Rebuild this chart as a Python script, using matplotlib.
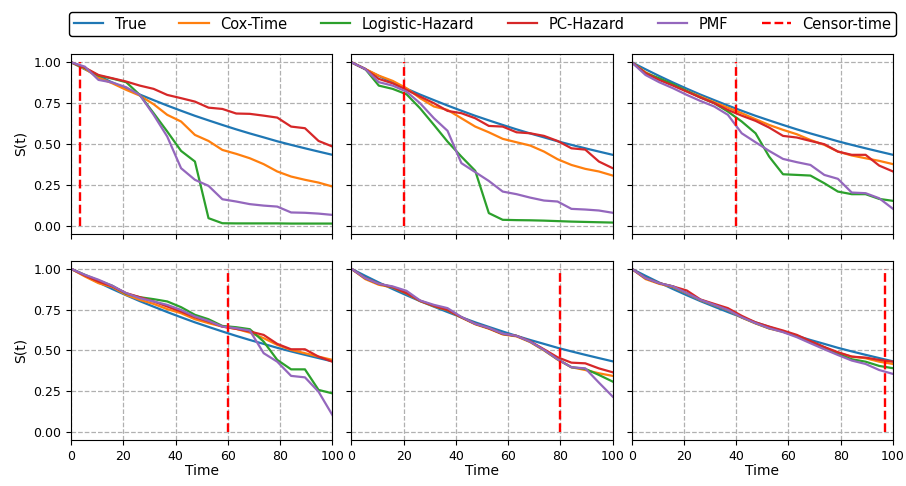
import matplotlib
matplotlib.use("Agg")
import matplotlib.pyplot as plt

# time grid of the discrete models (20 cut points on [0, 100])
time_grid = [0, 5.3, 10.5, 15.8, 21.1, 26.3, 31.6, 36.8, 42.1, 47.4,
             52.6, 57.9, 63.2, 68.4, 73.7, 78.9, 84.2, 89.5, 94.7, 100]

true_surv = [1.000, 0.957, 0.916, 0.876, 0.838, 0.802, 0.768, 0.735, 0.703, 0.672,
             0.644, 0.616, 0.589, 0.564, 0.540, 0.516, 0.494, 0.473, 0.453, 0.433]

censor_times = [3.5, 20, 40, 60, 80, 97]

# one list per panel (row-major order)
cox_time = [
    [1, 0.96, 0.906, 0.871, 0.831, 0.796, 0.743, 0.678, 0.637, 0.555, 0.518, 0.463, 0.439, 0.412, 0.376, 0.331, 0.30, 0.28, 0.263, 0.239],
    [1, 0.959, 0.918, 0.886, 0.841, 0.78, 0.729, 0.708, 0.657, 0.606, 0.571, 0.531, 0.51, 0.49, 0.453, 0.406, 0.371, 0.347, 0.331, 0.306],
    [1, 0.939, 0.898, 0.861, 0.824, 0.79, 0.755, 0.722, 0.688, 0.651, 0.616, 0.586, 0.559, 0.524, 0.494, 0.453, 0.429, 0.412, 0.396, 0.376],
    [1, 0.953, 0.912, 0.888, 0.84, 0.81, 0.785, 0.753, 0.728, 0.691, 0.667, 0.646, 0.632, 0.609, 0.575, 0.534, 0.503, 0.483, 0.462, 0.442],
    [1, 0.937, 0.902, 0.886, 0.849, 0.802, 0.771, 0.746, 0.701, 0.660, 0.633, 0.598, 0.586, 0.551, 0.500, 0.444, 0.397, 0.38, 0.36, 0.344],
    [1, 0.937, 0.908, 0.888, 0.849, 0.808, 0.777, 0.746, 0.701, 0.665, 0.634, 0.614, 0.587, 0.552, 0.518, 0.486, 0.462, 0.452, 0.431, 0.417],
]
logistic_hazard = [
    [1, 0.965, 0.918, 0.90, 0.878, 0.80, 0.688, 0.576, 0.457, 0.392, 0.045, 0.014, 0.013, 0.013, 0.013, 0.013, 0.012, 0.012, 0.012, 0.012],
    [1, 0.959, 0.857, 0.837, 0.804, 0.718, 0.616, 0.514, 0.422, 0.335, 0.076, 0.035, 0.033, 0.032, 0.03, 0.027, 0.024, 0.022, 0.02, 0.018],
    [1, 0.933, 0.902, 0.865, 0.824, 0.784, 0.749, 0.698, 0.637, 0.565, 0.422, 0.314, 0.31, 0.306, 0.259, 0.208, 0.192, 0.192, 0.163, 0.151],
    [1, 0.963, 0.928, 0.896, 0.847, 0.826, 0.814, 0.80, 0.765, 0.718, 0.691, 0.65, 0.642, 0.63, 0.554, 0.442, 0.384, 0.384, 0.258, 0.237],
    [1, 0.943, 0.908, 0.888, 0.851, 0.804, 0.773, 0.748, 0.703, 0.663, 0.636, 0.601, 0.589, 0.554, 0.503, 0.446, 0.397, 0.387, 0.35, 0.309],
    [1, 0.943, 0.912, 0.892, 0.851, 0.81, 0.779, 0.748, 0.703, 0.667, 0.636, 0.616, 0.589, 0.554, 0.519, 0.479, 0.446, 0.431, 0.405, 0.391],
]
pc_hazard = [
    [1, 0.967, 0.922, 0.902, 0.882, 0.857, 0.837, 0.80, 0.78, 0.759, 0.722, 0.714, 0.686, 0.684, 0.673, 0.661, 0.606, 0.596, 0.518, 0.484],
    [1, 0.959, 0.898, 0.871, 0.831, 0.79, 0.749, 0.702, 0.688, 0.657, 0.61, 0.606, 0.571, 0.565, 0.549, 0.518, 0.473, 0.465, 0.392, 0.351],
    [1, 0.933, 0.892, 0.857, 0.82, 0.784, 0.749, 0.708, 0.673, 0.641, 0.60, 0.549, 0.539, 0.518, 0.498, 0.453, 0.433, 0.433, 0.367, 0.331],
    [1, 0.959, 0.922, 0.892, 0.851, 0.826, 0.80, 0.769, 0.738, 0.703, 0.677, 0.646, 0.632, 0.616, 0.595, 0.54, 0.507, 0.507, 0.462, 0.431],
    [1, 0.943, 0.908, 0.888, 0.851, 0.804, 0.773, 0.748, 0.703, 0.663, 0.636, 0.601, 0.589, 0.556, 0.507, 0.458, 0.425, 0.421, 0.39, 0.366],
    [1, 0.943, 0.912, 0.892, 0.867, 0.812, 0.785, 0.759, 0.712, 0.672, 0.646, 0.622, 0.595, 0.557, 0.521, 0.489, 0.462, 0.456, 0.442, 0.431],
]
pmf = [
    [1, 0.973, 0.892, 0.876, 0.847, 0.80, 0.678, 0.545, 0.351, 0.28, 0.243, 0.161, 0.147, 0.131, 0.122, 0.116, 0.08, 0.078, 0.073, 0.065],
    [1, 0.959, 0.878, 0.857, 0.82, 0.749, 0.657, 0.58, 0.382, 0.327, 0.273, 0.208, 0.192, 0.171, 0.153, 0.147, 0.102, 0.098, 0.092, 0.078],
    [1, 0.922, 0.878, 0.841, 0.80, 0.763, 0.729, 0.678, 0.565, 0.51, 0.457, 0.408, 0.388, 0.371, 0.31, 0.286, 0.202, 0.198, 0.167, 0.102],
    [1, 0.963, 0.933, 0.896, 0.851, 0.82, 0.80, 0.779, 0.748, 0.708, 0.681, 0.646, 0.636, 0.622, 0.483, 0.431, 0.344, 0.335, 0.247, 0.104],
    [1, 0.943, 0.908, 0.892, 0.865, 0.806, 0.779, 0.759, 0.705, 0.663, 0.638, 0.603, 0.589, 0.554, 0.503, 0.446, 0.397, 0.39, 0.303, 0.217],
    [1, 0.943, 0.912, 0.892, 0.851, 0.81, 0.779, 0.748, 0.703, 0.667, 0.636, 0.612, 0.581, 0.544, 0.507, 0.472, 0.438, 0.417, 0.38, 0.356],
]

fig, axes = plt.subplots(2, 3, figsize=(9.06, 4.86), dpi=100, sharex=True, sharey=True)
fig.subplots_adjust(left=0.0784, right=0.9857, bottom=0.0942, top=0.8887,
                    wspace=0.0725, hspace=0.15)

for i, ax in enumerate(axes.flat):
    ax.plot(time_grid, true_surv, color="C0", lw=1.6, label="True")
    ax.plot(time_grid, cox_time[i], color="C1", lw=1.6, label="Cox-Time")
    ax.plot(time_grid, logistic_hazard[i], color="C2", lw=1.6, label="Logistic-Hazard")
    ax.plot(time_grid, pc_hazard[i], color="C3", lw=1.6, label="PC-Hazard")
    ax.plot(time_grid, pmf[i], color="C4", lw=1.6, label="PMF")
    ax.vlines(censor_times[i], 0, 1, colors="r", linestyles="--", lw=1.7,
              label="Censor-time")
    ax.grid(True, linestyle="--", color="#b0b0b0", lw=0.9)
    ax.set_xlim(0, 100)
    ax.set_ylim(-0.05, 1.05)
    ax.set_xticks([0, 20, 40, 60, 80, 100])
    ax.set_yticks([0, 0.25, 0.5, 0.75, 1.0])
    ax.tick_params(labelsize=9)

for ax in axes[:, 0]:
    ax.set_ylabel("S(t)", fontsize=10)
for ax in axes[1, :]:
    ax.set_xlabel("Time", fontsize=10, labelpad=0.5)

handles, labels = axes[0, 0].get_legend_handles_labels()
leg = fig.legend(handles, labels, loc="lower left", ncol=6, mode="expand",
                 bbox_to_anchor=(0.0767, 0.926, 0.912, 0.05), fontsize=10.5,
                 frameon=True, fancybox=True, borderaxespad=0.0,
                 borderpad=0.3)
leg.get_frame().set_edgecolor("black")
leg.get_frame().set_linewidth(1.0)
leg.get_frame().set_alpha(1.0)

fig.savefig("out.png", dpi=100)
